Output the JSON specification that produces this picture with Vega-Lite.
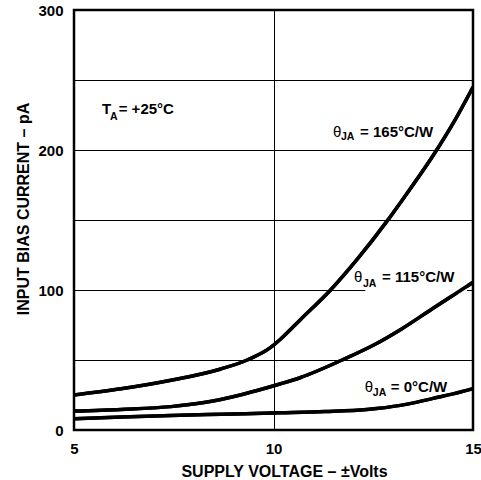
{
  "$schema": "https://vega.github.io/schema/vega-lite/v6.json",
  "width": 399,
  "height": 420,
  "autosize": {"type": "none"},
  "padding": {"left": 74, "top": 10, "right": 8, "bottom": 50},
  "background": "white",
  "config": {
    "view": {"stroke": "black", "strokeWidth": 2.5},
    "font": "Liberation Sans"
  },
  "datasets": {
    "curves": [
      {"series": "165", "v": 5.0, "i": 25},
      {"series": "165", "v": 6.18, "i": 29.4},
      {"series": "165", "v": 7.43, "i": 35.5},
      {"series": "165", "v": 8.68, "i": 43.6},
      {"series": "165", "v": 9.34, "i": 50},
      {"series": "165", "v": 9.93, "i": 59},
      {"series": "165", "v": 10.18, "i": 65},
      {"series": "165", "v": 10.68, "i": 79},
      {"series": "165", "v": 11.43, "i": 100},
      {"series": "165", "v": 12.1, "i": 122},
      {"series": "165", "v": 12.84, "i": 149},
      {"series": "165", "v": 13.22, "i": 164},
      {"series": "165", "v": 14.09, "i": 200},
      {"series": "165", "v": 14.5, "i": 219},
      {"series": "165", "v": 15.0, "i": 245},
      {"series": "115", "v": 5.0, "i": 13.5},
      {"series": "115", "v": 6.18, "i": 14.7},
      {"series": "115", "v": 7.43, "i": 16.7},
      {"series": "115", "v": 8.26, "i": 19.6},
      {"series": "115", "v": 9.09, "i": 24.5},
      {"series": "115", "v": 9.59, "i": 28.2},
      {"series": "115", "v": 10.18, "i": 33},
      {"series": "115", "v": 10.68, "i": 37.5},
      {"series": "115", "v": 11.72, "i": 50},
      {"series": "115", "v": 12.5, "i": 60.5},
      {"series": "115", "v": 13.2, "i": 72},
      {"series": "115", "v": 14.0, "i": 87},
      {"series": "115", "v": 15.0, "i": 105.5},
      {"series": "0", "v": 5.0, "i": 8.0},
      {"series": "0", "v": 6.2, "i": 9.3},
      {"series": "0", "v": 7.43, "i": 10.4},
      {"series": "0", "v": 8.7, "i": 11.3},
      {"series": "0", "v": 10.18, "i": 12.3},
      {"series": "0", "v": 11.3, "i": 13.2},
      {"series": "0", "v": 12.34, "i": 14.7},
      {"series": "0", "v": 13.18, "i": 17.6},
      {"series": "0", "v": 13.6, "i": 19.9},
      {"series": "0", "v": 14.0, "i": 22.6},
      {"series": "0", "v": 14.5, "i": 25.8},
      {"series": "0", "v": 15.0, "i": 29.5}
    ],
    "mask": [{"x1": 12.3, "x2": 14.85, "y1": 97, "y2": 112}],
    "main": [
      {"x": 5.70, "y": 225.7, "t": "T"},
      {"x": 6.12, "y": 225.7, "t": "= +25°C"},
      {"x": 12.17, "y": 209.1, "t": "= 165°C/W"},
      {"x": 12.72, "y": 105.7, "t": "= 115°C/W"},
      {"x": 12.94, "y": 27.2, "t": "= 0°C/W"}
    ],
    "sub": [
      {"x": 5.9, "y": 221.6, "t": "A"},
      {"x": 11.69, "y": 206.8, "t": "JA"},
      {"x": 12.24, "y": 102.1, "t": "JA"},
      {"x": 12.49, "y": 24.3, "t": "JA"}
    ],
    "theta": [
      {"x": 11.49, "y": 209.1, "t": "θ"},
      {"x": 12.02, "y": 105.7, "t": "θ"},
      {"x": 12.29, "y": 27.2, "t": "θ"}
    ]
  },
  "layer": [
    {
      "data": {"name": "curves"},
      "mark": {"type": "line", "interpolate": "monotone", "strokeWidth": 3.5, "color": "black", "clip": true},
      "encoding": {
        "x": {
          "field": "v", "type": "quantitative",
          "scale": {"domain": [5, 15], "nice": false, "zero": false},
          "axis": {
            "values": [5, 10, 15],
            "grid": true, "gridColor": "black", "gridWidth": 1,
            "ticks": false, "domain": false,
            "labelFont": "Liberation Sans", "labelFontWeight": "bold", "labelFontSize": 15,
            "labelColor": "black", "labelPadding": 11, "labelFlush": false, "labelOverlap": false,
            "title": "SUPPLY VOLTAGE – ±Volts",
            "titleFont": "Liberation Sans", "titleFontSize": 16, "titleFontWeight": "bold", "titleColor": "black",
            "titleX": 210, "titleY": 46, "titleBaseline": "alphabetic", "titleAlign": "center"
          }
        },
        "y": {
          "field": "i", "type": "quantitative",
          "scale": {"domain": [0, 300], "nice": false},
          "axis": {
            "values": [0, 50, 100, 150, 200, 250, 300],
            "labelExpr": "datum.value % 100 === 0 ? datum.label : ''",
            "grid": true, "gridColor": "black", "gridWidth": 1,
            "ticks": false, "domain": false,
            "labelFont": "Liberation Sans", "labelFontWeight": "bold", "labelFontSize": 15,
            "labelColor": "black", "labelPadding": 11, "labelOverlap": false, "labelFlush": false,
            "title": "INPUT BIAS CURRENT – pA",
            "titleFont": "Liberation Sans", "titleFontSize": 16, "titleFontWeight": "bold", "titleColor": "black",
            "titleX": -46, "titleY": 198.5, "titleAngle": -90, "titleBaseline": "alphabetic", "titleAlign": "center"
          }
        },
        "detail": {"field": "series"}
      }
    },
    {
      "data": {"name": "mask"},
      "mark": {"type": "rect", "color": "white"},
      "encoding": {
        "x": {"field": "x1", "type": "quantitative"},
        "x2": {"field": "x2"},
        "y": {"field": "y1", "type": "quantitative"},
        "y2": {"field": "y2"}
      }
    },
    {
      "data": {"name": "curves"},
      "mark": {"type": "line", "interpolate": "monotone", "strokeWidth": 3.5, "color": "black", "clip": true},
      "encoding": {
        "x": {"field": "v", "type": "quantitative"},
        "y": {"field": "i", "type": "quantitative"},
        "detail": {"field": "series"}
      }
    },
    {
      "data": {"name": "main"},
      "mark": {"type": "text", "align": "left", "baseline": "alphabetic", "font": "Liberation Sans", "fontWeight": "bold", "fontSize": 15, "color": "black"},
      "encoding": {
        "x": {"field": "x", "type": "quantitative"},
        "y": {"field": "y", "type": "quantitative"},
        "text": {"field": "t"}
      }
    },
    {
      "data": {"name": "sub"},
      "mark": {"type": "text", "align": "left", "baseline": "alphabetic", "font": "Liberation Sans", "fontWeight": "bold", "fontSize": 10.5, "color": "black"},
      "encoding": {
        "x": {"field": "x", "type": "quantitative"},
        "y": {"field": "y", "type": "quantitative"},
        "text": {"field": "t"}
      }
    },
    {
      "data": {"name": "theta"},
      "mark": {"type": "text", "align": "left", "baseline": "alphabetic", "font": "Liberation Sans", "fontWeight": "normal", "fontSize": 15, "color": "black"},
      "encoding": {
        "x": {"field": "x", "type": "quantitative"},
        "y": {"field": "y", "type": "quantitative"},
        "text": {"field": "t"}
      }
    }
  ]
}
